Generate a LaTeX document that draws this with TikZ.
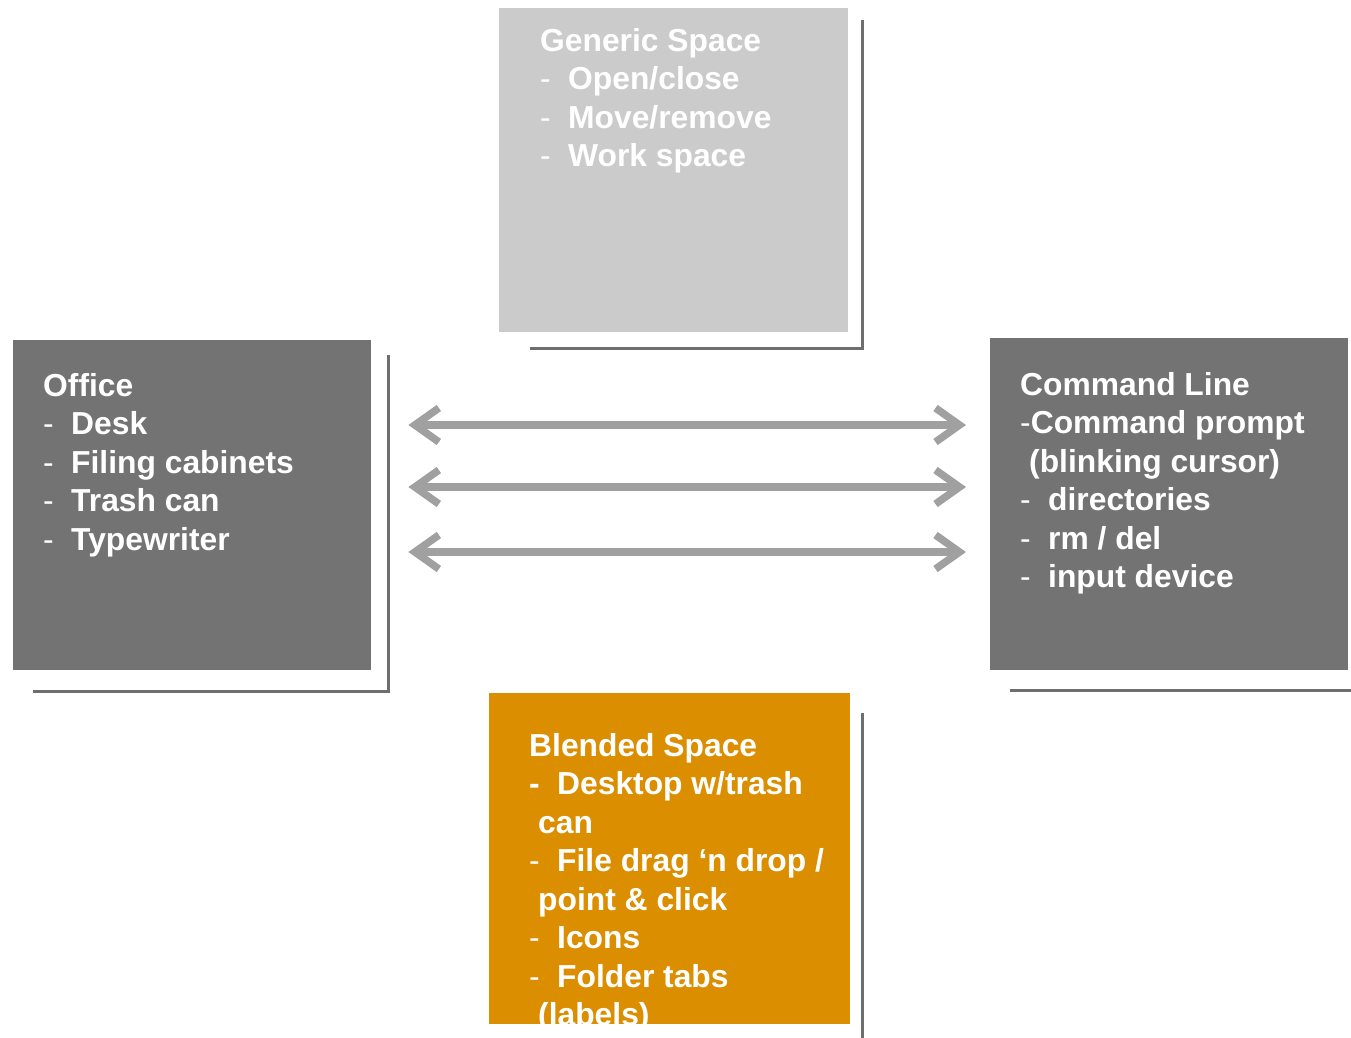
\documentclass[tikz,border=0pt]{standalone}
\usepackage{fontspec}
\setmainfont{Liberation Sans}
\usetikzlibrary{arrows.meta,positioning,calc}
\definecolor{genericgray}{HTML}{CBCBCB}
\definecolor{boxgray}{HTML}{737373}
\definecolor{blendorange}{HTML}{DB8F00}
\definecolor{shadegray}{HTML}{6E6E6E}
\definecolor{arrowgray}{HTML}{A0A0A0}
\newcommand{\itm}[1]{\makebox[28pt][l]{\mdseries -}#1}
\newcommand{\bitm}[1]{\makebox[28pt][l]{-}#1}
\tikzset{
    spacebox/.style={rectangle,inner sep=0pt,anchor=north west},
    boxtext/.style={anchor=north west,align=left,inner sep=0pt,text=white,
        font=\fontsize{31.8}{38.5}\selectfont\bfseries},
    shadow line/.style={draw=shadegray,line width=2.5pt},
    twoway/.style={draw=arrowgray,line width=7.5pt,
        {Straight Barb[length=24pt,width=34pt]}-{Straight Barb[length=24pt,width=34pt]}}
}

\begin{document}
\begin{tikzpicture}[x=1pt,y=-1pt]
    \useasboundingbox (0,0) rectangle (1351,1037);

    % the four spaces
    \node[spacebox,fill=genericgray,minimum width=349pt,minimum height=324pt] (generic) at (499,8) {};
    \node[spacebox,fill=boxgray,minimum width=358pt,minimum height=330pt] (office) at (13,340) {};
    \node[spacebox,fill=boxgray,minimum width=358pt,minimum height=332pt] (cmdline) at (990,338) {};
    \node[spacebox,fill=blendorange,minimum width=361pt,minimum height=331pt] (blended) at (489,693) {};

    % offset lines behind the boxes
    \draw[shadow line] ($(generic.south west)+(31,16)$) -| ($(generic.north east)+(14,12)$);
    \draw[shadow line] ($(office.south west)+(20,21)$) -| ($(office.north east)+(17,15)$);
    \draw[shadow line] ($(cmdline.south west)+(20,20)$) -| ($(cmdline.north east)+(17,15)$);
    \draw[shadow line] ($(blended.south west)+(20,20)$) -| ($(blended.north east)+(12,20)$);

    % texts (top of first line sits about 23pt above its baseline)
    \node[boxtext] (generictext) at ($(generic.north west)+(41,20)$)
        {Generic Space\\ \itm{Open/close}\\ \itm{Move/remove}\\ \itm{Work space}};
    \node[boxtext] (officetext) at ($(office.north west)+(30,33)$)
        {Office\\ \itm{Desk}\\ \itm{Filing cabinets}\\ \itm{Trash can}\\ \itm{Typewriter}};
    \node[boxtext] (cmdtext) at ($(cmdline.north west)+(30,34)$)
        {Command Line\\ {\mdseries -}Command prompt\\ \hspace*{9pt}(blinking cursor)\\
         \itm{directories}\\ \itm{rm / del}\\ \itm{input device}};
    \begin{scope}
        \clip (blended.north west) rectangle (blended.south east);
        \node[boxtext] (blendtext) at ($(blended.north west)+(40,40)$)
            {Blended Space\\ \bitm{Desktop w/trash}\\ \hspace*{9pt}can\\
             \itm{File drag ‘n drop /}\\ \hspace*{9pt}point \& click\\
             \itm{Icons}\\ \itm{Folder tabs}\\ \hspace*{9pt}(labels)};
    \end{scope}

    % mappings between office and command line
    \foreach \i/\yy in {1/425,2/487,3/552} {
        \coordinate (left\i) at ($(office.east |- 0,\yy)+(37,0)$);
        \coordinate (right\i) at ($(cmdline.west |- 0,\yy)+(-24,0)$);
        \draw[twoway] (left\i) -- (right\i);
    }
\end{tikzpicture}
\end{document}
